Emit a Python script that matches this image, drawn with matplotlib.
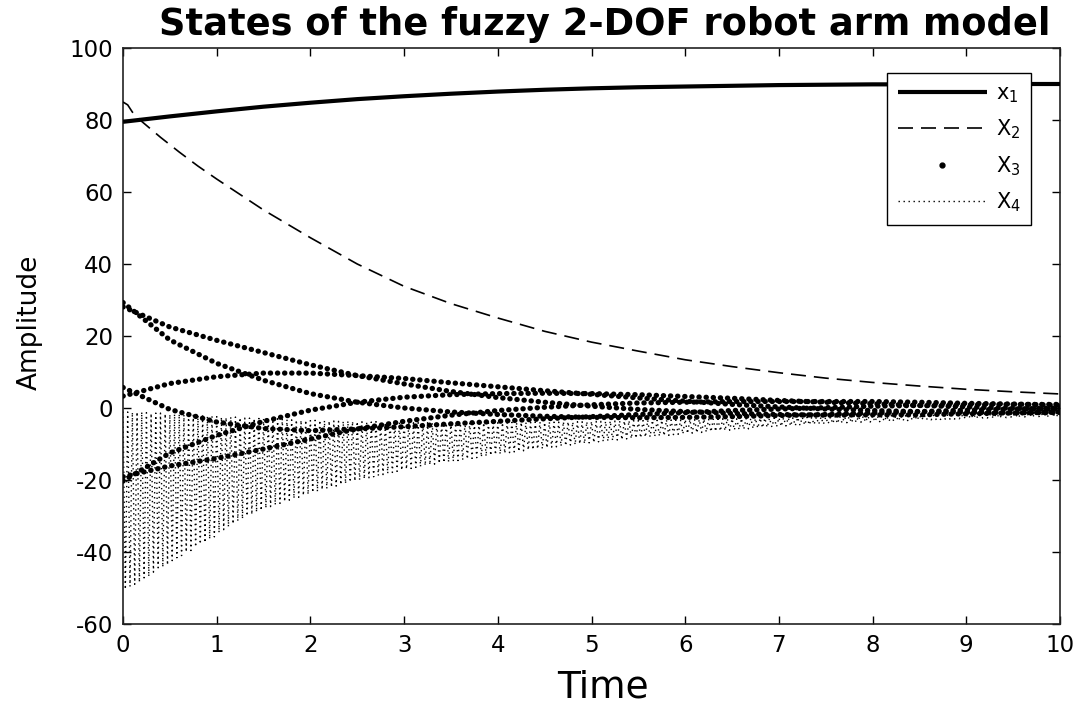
import numpy as np
import matplotlib
matplotlib.use('Agg')
import matplotlib.pyplot as plt
from matplotlib.lines import Line2D

plt.rcParams['font.family'] = ['DejaVu Sans']
plt.rcParams['axes.unicode_minus'] = False

# ---- state trajectories ----
# x1 and the x3 strands are sampled every 0.5 s
t_half = [0, 0.5, 1, 1.5, 2, 2.5, 3, 3.5, 4, 4.5, 5, 5.5, 6, 6.5, 7, 7.5, 8, 8.5, 9, 9.5, 10]

x1 = [79.5, 81.0, 82.4, 83.7, 84.8, 85.8, 86.6, 87.3, 87.9, 88.4, 88.8,
      89.1, 89.3, 89.5, 89.7, 89.8, 89.9, 89.9, 90.0, 90.0, 90.0]

t_x2 = [0, 0.05, 0.1, 0.2, 0.4, 0.6, 0.8, 1, 1.5, 2, 2.5, 3, 3.5, 4, 4.5, 5,
        5.5, 6, 6.5, 7, 7.5, 8, 8.5, 9, 9.5, 10]
x2 = [85.0, 84.2, 82.2, 79.6, 75.2, 71.1, 67.2, 63.6, 55.0, 47.3, 40.0, 33.8,
      29.0, 25.0, 21.3, 18.3, 15.8, 13.4, 11.5, 9.8, 8.3, 7.1, 6.1, 5.2, 4.5, 3.9]

# x3: sampled velocity, seen as six interleaved strands of dots
x3_s0 = [28.1, 22.5, 18.8, 15.4, 12.0, 9.0, 6.7, 4.6, 2.9, 1.6, 0.5, -0.4, -1.0,
         -1.5, -1.8, -2.0, -1.9, -1.9, -1.6, -1.4, -1.1]
x3_s1 = [29.3, 18.9, 12.4, 7.7, 4.0, 1.6, 0.0, -1.1, -1.8, -2.3, -2.6, -2.7, -2.6,
         -2.4, -2.1, -1.8, -1.4, -1.0, -0.6, -0.3, 0.0]
x3_s2 = [5.7, -0.4, -3.9, -5.7, -6.3, -5.8, -5.2, -4.4, -3.7, -3.0, -2.4, -1.8, -1.3,
         -0.7, -0.3, 0.1, 0.5, 0.7, 0.9, 1.0, 1.0]
x3_s3 = [-19.1, -16.1, -14.0, -11.4, -8.6, -5.8, -3.7, -2.0, -0.7, 0.2, 0.9, 1.4, 1.6,
         1.8, 1.8, 1.8, 1.8, 1.6, 1.3, 1.1, 0.8]
x3_s4 = [-20.3, -12.5, -7.6, -3.7, -0.6, 1.6, 3.0, 3.7, 4.0, 4.1, 4.0, 3.7, 3.2,
         2.7, 2.1, 1.6, 1.2, 0.7, 0.3, -0.1, -0.3]
x3_s5 = [3.3, 6.8, 8.7, 9.7, 9.7, 9.0, 8.2, 7.0, 5.9, 4.8, 3.8, 2.8, 1.9,
         1.0, 0.3, -0.3, -0.7, -1.0, -1.2, -1.3, -1.3]
x3_strands = [x3_s0, x3_s1, x3_s2, x3_s3, x3_s4, x3_s5]

# x4: fast oscillation, peaks every 0.05 s and troughs half a step later
x4_peaks = [-1.0, -1.1, -1.2, -1.1, -1.1, -1.3, -1.5, -1.4, -1.4, -1.6,
            -1.8, -1.7, -1.7, -1.9, -2.0, -2.0, -2.1, -2.2, -2.3, -2.3,
            -2.4, -2.5, -2.6, -2.5, -2.5, -2.7, -2.8, -2.8, -2.9, -2.9,
            -3.0, -3.0, -3.1, -3.0, -3.0, -3.2, -3.3, -3.3, -3.4, -3.4,
            -3.5, -3.4, -3.4, -3.5, -3.6, -3.6, -3.7, -3.7, -3.6, -3.7,
            -3.8, -3.8, -3.9, -3.9, -3.8, -3.9, -4.0, -4.0, -3.9, -4.0,
            -4.0, -4.0, -4.1, -4.1, -4.0, -4.1, -4.1, -4.1, -4.2, -4.2,
            -4.1, -4.2, -4.2, -4.1, -4.1, -4.2, -4.2, -4.1, -4.1, -4.1,
            -4.1, -4.1, -4.0, -4.0, -4.1, -4.0, -4.0, -4.0, -3.9, -3.9,
            -4.0, -3.9, -3.9, -3.9, -3.8, -3.8, -3.9, -3.8, -3.8, -3.8,
            -3.7, -3.7, -3.7, -3.7, -3.6, -3.6, -3.6, -3.6, -3.5, -3.5,
            -3.5, -3.5, -3.4, -3.4, -3.4, -3.4, -3.3, -3.3, -3.3, -3.3,
            -3.2, -3.2, -3.2, -3.2, -3.1, -3.1, -3.1, -3.1, -3.0, -3.0,
            -3.0, -3.0, -2.9, -2.9, -2.9, -2.9, -2.8, -2.8, -2.8, -2.8,
            -2.7, -2.7, -2.7, -2.7, -2.6, -2.6, -2.6, -2.6, -2.5, -2.5,
            -2.5, -2.5, -2.4, -2.4, -2.4, -2.4, -2.3, -2.3, -2.3, -2.3,
            -2.2, -2.2, -2.2, -2.2, -2.1, -2.1, -2.1, -2.1, -2.0, -2.0,
            -2.0, -2.0, -2.0, -2.0, -1.9, -1.9, -1.9, -1.9, -1.9, -1.9,
            -1.8, -1.8, -1.8, -1.8, -1.7, -1.7, -1.7, -1.7, -1.6, -1.6,
            -1.6, -1.6, -1.6, -1.6, -1.5, -1.5, -1.5, -1.5, -1.5, -1.5,
            -1.4]
x4_troughs = [-50.4, -49.6, -49.0, -48.4, -47.2, -46.8, -45.6, -44.4, -44.2, -43.6,
              -42.4, -41.6, -41.0, -40.0, -39.6, -38.6, -37.8, -37.4, -36.4, -35.8,
              -34.6, -33.8, -33.0, -32.2, -31.4, -30.8, -30.0, -29.6, -28.9, -28.5,
              -27.8, -27.4, -26.9, -26.5, -26.0, -25.6, -25.1, -24.8, -24.3, -24.0,
              -23.5, -23.2, -22.7, -22.4, -22.0, -21.7, -21.3, -21.0, -20.6, -20.3,
              -20.0, -19.7, -19.4, -19.1, -18.8, -18.5, -18.2, -17.9, -17.6, -17.3,
              -17.0, -16.8, -16.5, -16.3, -16.0, -15.8, -15.6, -15.4, -15.2, -15.0,
              -14.8, -14.6, -14.4, -14.2, -14.0, -13.8, -13.6, -13.4, -13.2, -13.0,
              -12.8, -12.6, -12.4, -12.2, -12.1, -11.9, -11.7, -11.6, -11.4, -11.3,
              -11.1, -10.9, -10.8, -10.6, -10.5, -10.3, -10.2, -10.0, -9.9, -9.7,
              -9.6, -9.4, -9.3, -9.2, -9.0, -8.9, -8.8, -8.6, -8.5, -8.4,
              -8.3, -8.1, -8.0, -7.9, -7.8, -7.7, -7.6, -7.4, -7.3, -7.2,
              -7.1, -7.0, -6.9, -6.8, -6.7, -6.6, -6.5, -6.4, -6.3, -6.2,
              -6.1, -6.0, -5.9, -5.8, -5.7, -5.6, -5.5, -5.4, -5.3, -5.2,
              -5.1, -5.0, -5.0, -4.9, -4.8, -4.7, -4.7, -4.6, -4.5, -4.5,
              -4.4, -4.3, -4.3, -4.2, -4.1, -4.1, -4.0, -4.0, -3.9, -3.9,
              -3.8, -3.8, -3.7, -3.7, -3.6, -3.6, -3.5, -3.5, -3.4, -3.4,
              -3.3, -3.3, -3.3, -3.2, -3.2, -3.1, -3.1, -3.1, -3.0, -3.0,
              -2.9, -2.9, -2.9, -2.8, -2.8, -2.8, -2.7, -2.7, -2.7, -2.6,
              -2.6, -2.6, -2.5, -2.5, -2.5, -2.4, -2.4, -2.4, -2.3, -2.3]

t_peaks = np.round(np.arange(0, 10.001, 0.05), 3)
t_troughs = np.round(np.arange(0.025, 10, 0.05), 3)

# merge peaks and troughs into one time-ordered signal
t_x4 = np.empty(len(t_peaks) + len(t_troughs))
x4 = np.empty_like(t_x4)
t_x4[0::2], t_x4[1::2] = t_peaks, t_troughs
x4[0::2], x4[1::2] = x4_peaks, x4_troughs

# ---- figure ----
fig = plt.figure(figsize=(10.8, 7.07), dpi=100)
ax = fig.add_axes([123 / 1080, 83 / 707, 937 / 1080, 576 / 707])

h4, = ax.plot(t_x4, x4, color='k', lw=1.0, linestyle=(0, (1, 2.6)), zorder=2)
for strand in x3_strands:
    ax.plot(t_half, strand, color='k', lw=3.8, linestyle=(0, (0.05, 1.3)),
            dash_capstyle='round', zorder=3)
h2, = ax.plot(t_x2, x2, color='k', lw=1.2, linestyle=(0, (9, 4.8)), zorder=4)
h1, = ax.plot(t_half, x1, color='k', lw=3.0, solid_capstyle='butt', zorder=5)
h3 = Line2D([], [], color='k', marker='.', markersize=7, linestyle='None')

ax.set_xlim(0, 10)
ax.set_ylim(-60, 100)
ax.set_xticks(range(0, 11))
ax.set_yticks(range(-60, 101, 20))
ax.tick_params(direction='in', length=6, width=1, top=True, right=True,
               labelsize=16.5, pad=7, colors='k')
for sp in ax.spines.values():
    sp.set_linewidth(1.2)
    sp.set_color('#222222')

ax.set_title('States of the fuzzy 2-DOF robot arm model', fontsize=26.5,
             fontweight='bold', x=0.514, pad=9)
ax.set_xlabel('Time', fontsize=27)
ax.xaxis.set_label_coords(0.512, -0.111)
ax.xaxis.label.set_va('center')
ax.set_ylabel('Amplitude', fontsize=19)
ax.yaxis.set_label_coords(-0.099, 0.523)
ax.yaxis.label.set_va('center')

leg = ax.legend([h1, h2, h3, h4],
                [r'$\mathregular{x_1}$', r'$\mathregular{X_2}$',
                 r'$\mathregular{X_3}$', r'$\mathregular{X_4}$'],
                loc='upper right', bbox_to_anchor=(0.969, 0.957),
                borderaxespad=0, fontsize=15, handlelength=4.3,
                handletextpad=0.4, labelspacing=0.62, borderpad=0.5,
                fancybox=False, framealpha=1, edgecolor='k')
leg.get_frame().set_linewidth(1.0)

fig.savefig('out.png', dpi=100)
